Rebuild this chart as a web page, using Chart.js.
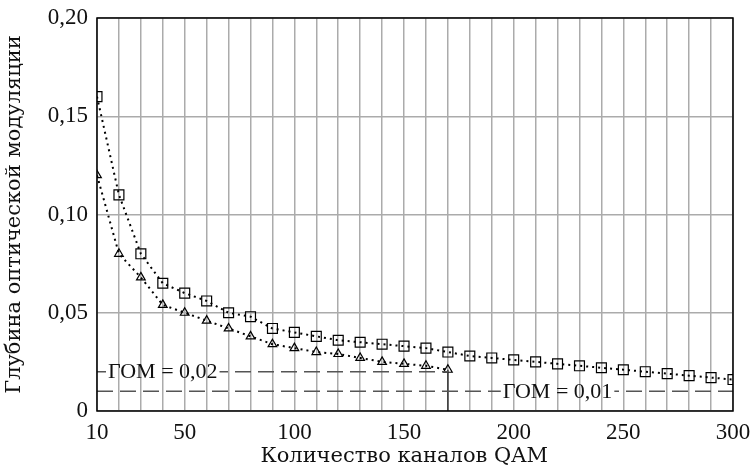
<!DOCTYPE html>
<html>
<head>
<meta charset="utf-8">
<script src="https://cdn.jsdelivr.net/npm/chart.js@4/dist/chart.umd.min.js"></script>
<style>
    html, body { margin: 0; padding: 0; background: #fff; }
</style>
</head>
<body>
<canvas id="chartOmd" width="751" height="470"></canvas>
<script>
// Depth of optical modulation vs number of QAM channels

var channels = [10, 20, 30, 40, 50, 60, 70, 80, 90, 100, 110, 120, 130, 140, 150,
    160, 170, 180, 190, 200, 210, 220, 230, 240, 250, 260, 270, 280, 290, 300];
var depthSquares = [0.160, 0.110, 0.080, 0.065, 0.060, 0.056, 0.050, 0.048, 0.042, 0.040,
    0.038, 0.036, 0.035, 0.034, 0.033, 0.032, 0.030, 0.028, 0.027, 0.026,
    0.025, 0.024, 0.023, 0.022, 0.021, 0.020, 0.019, 0.018, 0.017, 0.016];

var channelsTri = [10, 20, 30, 40, 50, 60, 70, 80, 90, 100, 110, 120, 130, 140, 150, 160, 170];
var depthTriangles = [0.120, 0.080, 0.068, 0.054, 0.050, 0.046, 0.042, 0.038, 0.034, 0.032,
    0.030, 0.029, 0.027, 0.025, 0.024, 0.023, 0.021];

var gomLevels = [0.02, 0.01];
var gomStart = [10, 10];
var gomEnd = [170, 300];
var gomLabels = ['ГОМ = 0,02', 'ГОМ = 0,01'];
var gomLabelAt = [40, 220];

var dropX = 170;

var xTickLabels = [10, 50, 100, 150, 200, 250, 300];
var yMin = 0, yMax = 0.2, yStep = 0.05;

var xTitle = 'Количество каналов QAM';
var yTitle = 'Глубина оптической модуляции';

var serif = "'Liberation Serif', 'DejaVu Serif', serif";
var titleFont = "21px 'DejaVu Serif', serif";
var fontSize = 22;
var tickSize = 23;

function toPoints(xs, ys) {
    return xs.map(function (x, i) { return { x: x, y: ys[i] }; });
}

var datasets = [];

// dashed threshold lines first so markers sit on top
gomLevels.forEach(function (lvl, i) {
    datasets.push({
        label: gomLabels[i],
        data: [{ x: gomStart[i], y: lvl }, { x: gomEnd[i], y: lvl }],
        borderColor: '#555555',
        borderWidth: 1.5,
        borderDash: [16, 7],
        pointRadius: 0,
        fill: false,
        tension: 0,
        gomIndex: i
    });
});

datasets.push({
    label: 'drop',
    data: [{ x: dropX, y: 0 }, { x: dropX, y: depthTriangles[channelsTri.indexOf(dropX)] }],
    borderColor: '#333333',
    borderWidth: 1.5,
    pointRadius: 0,
    fill: false,
    tension: 0
});

datasets.push({
    label: 'squares',
    data: toPoints(channels, depthSquares),
    borderColor: '#000000',
    borderWidth: 2,
    borderDash: [2, 4],
    pointStyle: 'rect',
    pointRadius: 7,
    pointBorderWidth: 1.2,
    pointBorderColor: '#000000',
    pointBackgroundColor: 'rgba(0,0,0,0)',
    fill: false,
    tension: 0,
    clip: 0
});

datasets.push({
    label: 'triangles',
    data: toPoints(channelsTri, depthTriangles),
    borderColor: '#000000',
    borderWidth: 2,
    borderDash: [2, 4],
    pointStyle: 'triangle',
    pointRadius: 5,
    pointBorderWidth: 1.2,
    pointBorderColor: '#000000',
    pointBackgroundColor: 'rgba(0,0,0,0)',
    fill: false,
    tension: 0,
    clip: 0
});

function labelBox(chart, i) {
    var ctx = chart.ctx;
    ctx.save();
    ctx.font = fontSize + 'px ' + serif;
    var w = ctx.measureText(gomLabels[i]).width;
    ctx.restore();
    var cx = chart.scales.x.getPixelForValue(gomLabelAt[i]);
    var cy = chart.scales.y.getPixelForValue(gomLevels[i]);
    return { cx: cx, cy: cy, x0: cx - w / 2 - 2, x1: cx + w / 2 + 2 };
}

var omdPlugin = {
    id: 'omdPlugin',
    beforeDatasetDraw: function (chart, args) {
        var ds = chart.data.datasets[args.index];
        if (ds.gomIndex === undefined) return;
        var b = labelBox(chart, ds.gomIndex);
        var ctx = chart.ctx;
        ctx.save();
        ctx.beginPath();
        ctx.rect(0, 0, chart.width, chart.height);
        ctx.rect(b.x0, b.cy - 12, b.x1 - b.x0, 24);
        ctx.clip('evenodd');
    },
    afterDatasetDraw: function (chart, args) {
        var ds = chart.data.datasets[args.index];
        if (ds.gomIndex === undefined) return;
        chart.ctx.restore();
    },
    afterDraw: function (chart) {
        var ctx = chart.ctx;
        var a = chart.chartArea;
        ctx.save();
        // frame
        ctx.strokeStyle = '#000000';
        ctx.lineWidth = 1.5;
        ctx.strokeRect(a.left, a.top, a.right - a.left, a.bottom - a.top);

        // threshold labels
        ctx.fillStyle = '#111111';
        ctx.font = fontSize + 'px ' + serif;
        ctx.textAlign = 'center';
        ctx.textBaseline = 'middle';
        gomLabels.forEach(function (t, i) {
            var b = labelBox(chart, i);
            ctx.fillText(t, b.cx, b.cy + 1);
        });

        // axis titles
        ctx.font = titleFont;
        ctx.fillText(xTitle, a.left + (a.right - a.left) * 0.483, 457);
        ctx.translate(15, (a.top + a.bottom) / 2);
        ctx.rotate(-Math.PI / 2);
        ctx.fillText(yTitle, 0, 0);
        ctx.restore();
    }
};

var ctx = document.getElementById('chartOmd').getContext('2d');
var chart = new Chart(ctx, {
    type: 'line',
    data: { datasets: datasets },
    plugins: [omdPlugin],
    options: {
        responsive: false,
        animation: false,
        layout: { padding: { left: 0, right: 18, top: 18, bottom: 0 } },
        plugins: {
            legend: { display: false },
            tooltip: { enabled: false }
        },
        scales: {
            x: {
                type: 'linear',
                min: 10,
                max: 300,
                afterFit: function (scale) {
                    scale.height = 59;
                    scale.paddingLeft = 0;
                    scale.paddingRight = 0;
                },
                ticks: {
                    stepSize: 10,
                    autoSkip: false,
                    maxRotation: 0,
                    padding: 8,
                    color: '#111111',
                    font: { family: serif, size: tickSize },
                    callback: function (v) {
                        return xTickLabels.indexOf(v) >= 0 ? String(v) : '';
                    }
                },
                grid: { color: '#ababab', lineWidth: 1.5, drawTicks: false },
                border: { display: false }
            },
            y: {
                min: yMin,
                max: yMax,
                afterFit: function (scale) {
                    scale.width = 97;
                    scale.paddingTop = 0;
                    scale.paddingBottom = 0;
                },
                ticks: {
                    stepSize: yStep,
                    padding: 9,
                    color: '#111111',
                    font: { family: serif, size: tickSize },
                    callback: function (v) {
                        return v === 0 ? '0' : v.toFixed(2).replace('.', ',');
                    }
                },
                grid: { color: '#ababab', lineWidth: 1.5, drawTicks: false },
                border: { display: false }
            }
        }
    }
});
</script>
</body>
</html>
